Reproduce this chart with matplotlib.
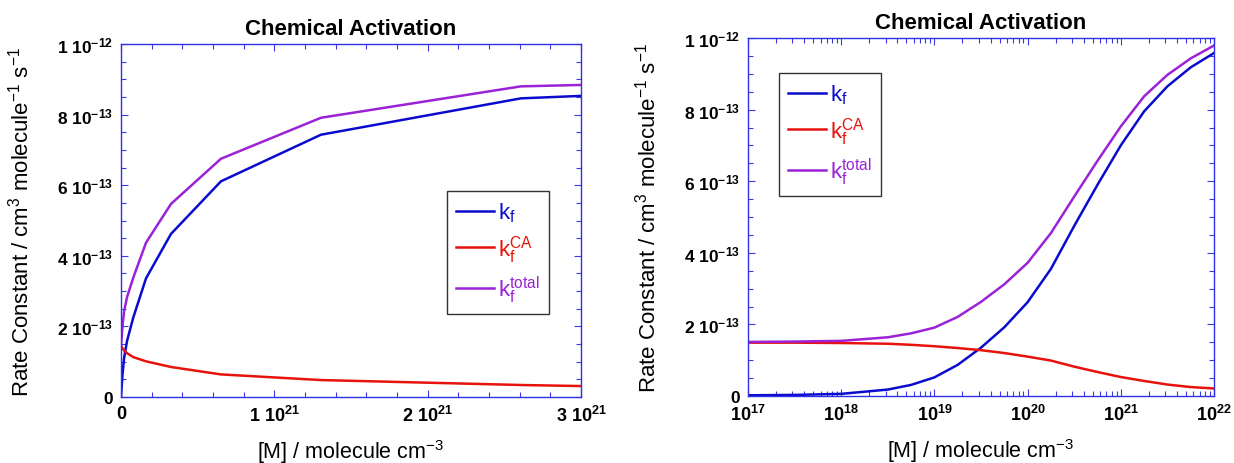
import matplotlib
matplotlib.use("Agg")
import matplotlib.pyplot as plt
import numpy as np
from matplotlib.ticker import FixedLocator, MultipleLocator, LogLocator, NullFormatter

plt.rcParams['font.family'] = ['Liberation Sans', 'DejaVu Sans']
plt.rcParams['mathtext.fontset'] = 'custom'
plt.rcParams['mathtext.rm'] = 'Liberation Sans'
plt.rcParams['mathtext.it'] = 'Liberation Sans'
plt.rcParams['mathtext.bf'] = 'Liberation Sans:bold'
plt.rcParams['mathtext.default'] = 'regular'

# ---------------- data: linear panel ----------------
M_lin = [0.0, 0.01e21, 0.02e21, 0.04e21, 0.08e21, 0.163e21, 0.326e21, 0.652e21, 1.304e21, 2.608e21, 3.0e21]
kf_lin = [0.0, 0.65e-13, 1.10e-13, 1.60e-13, 2.25e-13, 3.36e-13, 4.62e-13, 6.11e-13, 7.43e-13, 8.46e-13, 8.53e-13]
kca_lin = [1.45e-13, 1.38e-13, 1.32e-13, 1.24e-13, 1.13e-13, 1.01e-13, 0.85e-13, 0.64e-13, 0.48e-13, 0.34e-13, 0.31e-13]
ktot_lin = [1.45e-13, 2.03e-13, 2.42e-13, 2.84e-13, 3.38e-13, 4.37e-13, 5.47e-13, 6.75e-13, 7.91e-13, 8.80e-13, 8.84e-13]

# ---------------- data: log panel ----------------
logM = [17, 17.5, 18, 18.5, 18.75, 19, 19.25, 19.5, 19.75, 20, 20.25, 20.5, 20.75, 21, 21.25, 21.5, 21.75, 22]
kf_log = [0.02, 0.03, 0.06, 0.18, 0.31, 0.52, 0.87, 1.35, 1.92, 2.62, 3.55, 4.75, 5.90, 7.00, 7.95, 8.65, 9.18, 9.58]
kca_log = [1.49, 1.49, 1.48, 1.46, 1.43, 1.39, 1.34, 1.28, 1.20, 1.10, 0.99, 0.82, 0.67, 0.53, 0.42, 0.32, 0.25, 0.21]
ktot_log = [1.51, 1.52, 1.54, 1.64, 1.75, 1.91, 2.21, 2.63, 3.12, 3.72, 4.55, 5.57, 6.57, 7.53, 8.37, 8.97, 9.43, 9.79]

ytick_vals = [0, 2e-13, 4e-13, 6e-13, 8e-13, 1e-12]
ytick_labels = ['0', '2 10$^{-13}$', '4 10$^{-13}$', '6 10$^{-13}$', '8 10$^{-13}$', '1 10$^{-12}$']
xlin_vals = [0, 1e21, 2e21, 3e21]
xlin_labels = ['0', '1 10$^{21}$', '2 10$^{21}$', '3 10$^{21}$']
xlog_vals = [1e17, 1e18, 1e19, 1e20, 1e21, 1e22]
xlog_labels = ['10$^{17}$', '10$^{18}$', '10$^{19}$', '10$^{20}$', '10$^{21}$', '10$^{22}$']

series_names = ['k$_f$', 'k$_f^{CA}$', 'k$_f^{total}$']
colors = ['#0b0bcf', '#e8120c', '#9b22d6']

W, H = 1234, 464
fig = plt.figure(figsize=(W / 100, H / 100), dpi=100)

ax1 = fig.add_axes([121 / W, 1 - 398 / H, 460 / W, 353 / H])
ax2 = fig.add_axes([748 / W, 1 - 397 / H, 466 / W, 358 / H])

spine_col = '#3030e8'
tick_col = '#3a3ae8'

def style(ax):
    for s in ax.spines.values():
        s.set_color(spine_col)
        s.set_linewidth(1.0)
    ax.tick_params(which='both', direction='in', top=True, right=True, colors=tick_col,
                   labelcolor='black', width=0.8)
    ax.tick_params(which='major', length=5, pad=6)
    ax.tick_params(which='minor', length=3.5)
    ax.set_ylim(0, 1e-12)
    ax.yaxis.set_major_locator(FixedLocator(ytick_vals))
    ax.set_yticklabels(ytick_labels, fontsize=12.5, fontweight='bold')
    ax.yaxis.set_minor_locator(MultipleLocator(0.5e-13))
    ax.set_ylabel('Rate Constant / cm$^{3}$ molecule$^{-1}$ s$^{-1}$', fontsize=16)
    ax.set_xlabel('[M] / molecule cm$^{-3}$', fontsize=15.5)
    ax.set_title('Chemical Activation', fontsize=16, fontweight='bold', pad=7)

# left panel
for y, c, n in zip([kf_lin, kca_lin, ktot_lin], colors, series_names):
    ax1.plot(M_lin, y, color=c, lw=1.8, label=n)
style(ax1)
ax1.set_xlim(0, 3e21)
ax1.xaxis.set_major_locator(FixedLocator(xlin_vals))
ax1.set_xticklabels(xlin_labels, fontsize=13, fontweight='bold')
ax1.xaxis.set_minor_locator(MultipleLocator(0.2e21))
ax1.yaxis.set_label_coords(-0.191, 0.5)
ax1.xaxis.set_label_coords(0.5, -0.113)

# right panel
xM = [10 ** v for v in logM]
for y, c, n in zip([kf_log, kca_log, ktot_log], colors, series_names):
    ax2.plot(xM, [v * 1e-13 for v in y], color=c, lw=1.8, label=n)
ax2.set_xscale('log')
style(ax2)
ax2.set_xlim(1e17, 1e22)
ax2.xaxis.set_major_locator(FixedLocator(xlog_vals))
ax2.set_xticklabels(xlog_labels, fontsize=13, fontweight='bold')
ax2.xaxis.set_minor_locator(LogLocator(base=10, subs=np.arange(2, 10)))
ax2.xaxis.set_minor_formatter(NullFormatter())
ax2.yaxis.set_label_coords(-0.187, 0.5)
ax2.xaxis.set_label_coords(0.5, -0.113)

def add_legend(ax, x, y):
    leg = ax.legend(loc='upper left', bbox_to_anchor=(x / W, 1 - y / H),
                    bbox_transform=fig.transFigure, fontsize=16, frameon=True,
                    fancybox=False, edgecolor='black', labelcolor='linecolor',
                    handlelength=1.7, handletextpad=0.18, labelspacing=0.4,
                    borderpad=0.42, borderaxespad=0)
    leg.get_frame().set_linewidth(1.0)
    for l in leg.get_lines():
        l.set_linewidth(1.8)
    return leg

add_legend(ax1, 447, 192)
add_legend(ax2, 779, 74)

fig.savefig('out.png', dpi=100)
